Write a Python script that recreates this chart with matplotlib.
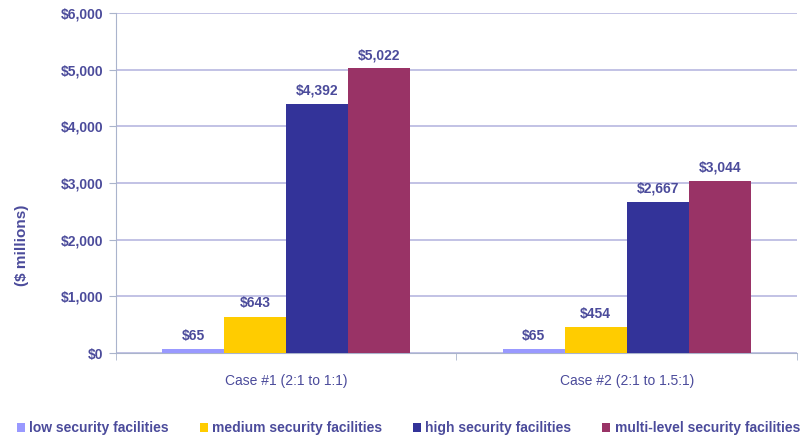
import matplotlib
matplotlib.use("Agg")
import matplotlib.pyplot as plt
import numpy as np
from matplotlib.ticker import FuncFormatter

categories = ["Case #1 (2:1 to 1:1)", "Case #2 (2:1 to 1.5:1)"]
series = ["low security facilities", "medium security facilities",
          "high security facilities", "multi-level security facilities"]
low = [65, 65]
medium = [643, 454]
high = [4392, 2667]
multi = [5022, 3044]
colors = ["#9999ff", "#ffcc00", "#333399", "#993366"]

txt = "#4b4b9b"
plt.rcParams['font.family'] = ['Liberation Sans', 'DejaVu Sans']

fig = plt.figure(figsize=(8.04, 4.41), dpi=100)
ax = fig.add_axes([116/804, 1-353/441, 681/804, 340/441])

x = np.arange(len(categories)) + 0.5
w = 0.182
vals = [low, medium, high, multi]
for i, (v, c, s) in enumerate(zip(vals, colors, series)):
    xs = x + (i - 1.5) * w
    bars = ax.bar(xs, v, width=w, color=c, label=s, zorder=3)
    for b, val in zip(bars, v):
        ax.text(b.get_x() + b.get_width()/2, val + 110, f"${val:,}",
                ha="center", va="bottom", fontsize=10, fontweight="bold", color=txt)

ax.set_xlim(0, 2)
ax.set_ylim(0, 6000)
ax.set_yticks(range(0, 6001, 1000))
ax.yaxis.set_major_formatter(FuncFormatter(lambda v, p: f"${int(v):,}"))
ax.grid(axis="y", color="#b8b8e0", linewidth=1.2, zorder=0)
ax.set_xticks(x)
ax.set_xticklabels(categories)
ax.set_xticks([0, 1, 2], minor=True)
ax.tick_params(axis="x", which="major", length=0, pad=15)
ax.tick_params(axis="x", which="minor", length=5, color="#aab4cc")
ax.tick_params(axis="y", length=5, color="#aab4cc", pad=4)
for lab in ax.get_xticklabels() + ax.get_yticklabels():
    lab.set_color(txt)
    lab.set_fontsize(10)
for lab in ax.get_yticklabels():
    lab.set_fontweight("bold")
for sp in ["top", "right"]:
    ax.spines[sp].set_visible(False)
ax.spines["left"].set_color("#aab4cc")
ax.spines["bottom"].set_color("#aab4cc")
ax.set_ylabel("($ millions)", fontsize=11, fontweight="bold", color=txt)
ax.yaxis.set_label_coords((29 - 116) / 681, (353 - 245) / 340)

leg = fig.legend(loc="center", bbox_to_anchor=(0.508, 1-428/441), ncol=4, frameon=False,
                 handlelength=0.6, handleheight=0.6, handletextpad=0.3, columnspacing=2.2,
                 prop={"size": 10, "weight": "bold"})
for t in leg.get_texts():
    t.set_color(txt)

fig.savefig("out.png", dpi=100)
